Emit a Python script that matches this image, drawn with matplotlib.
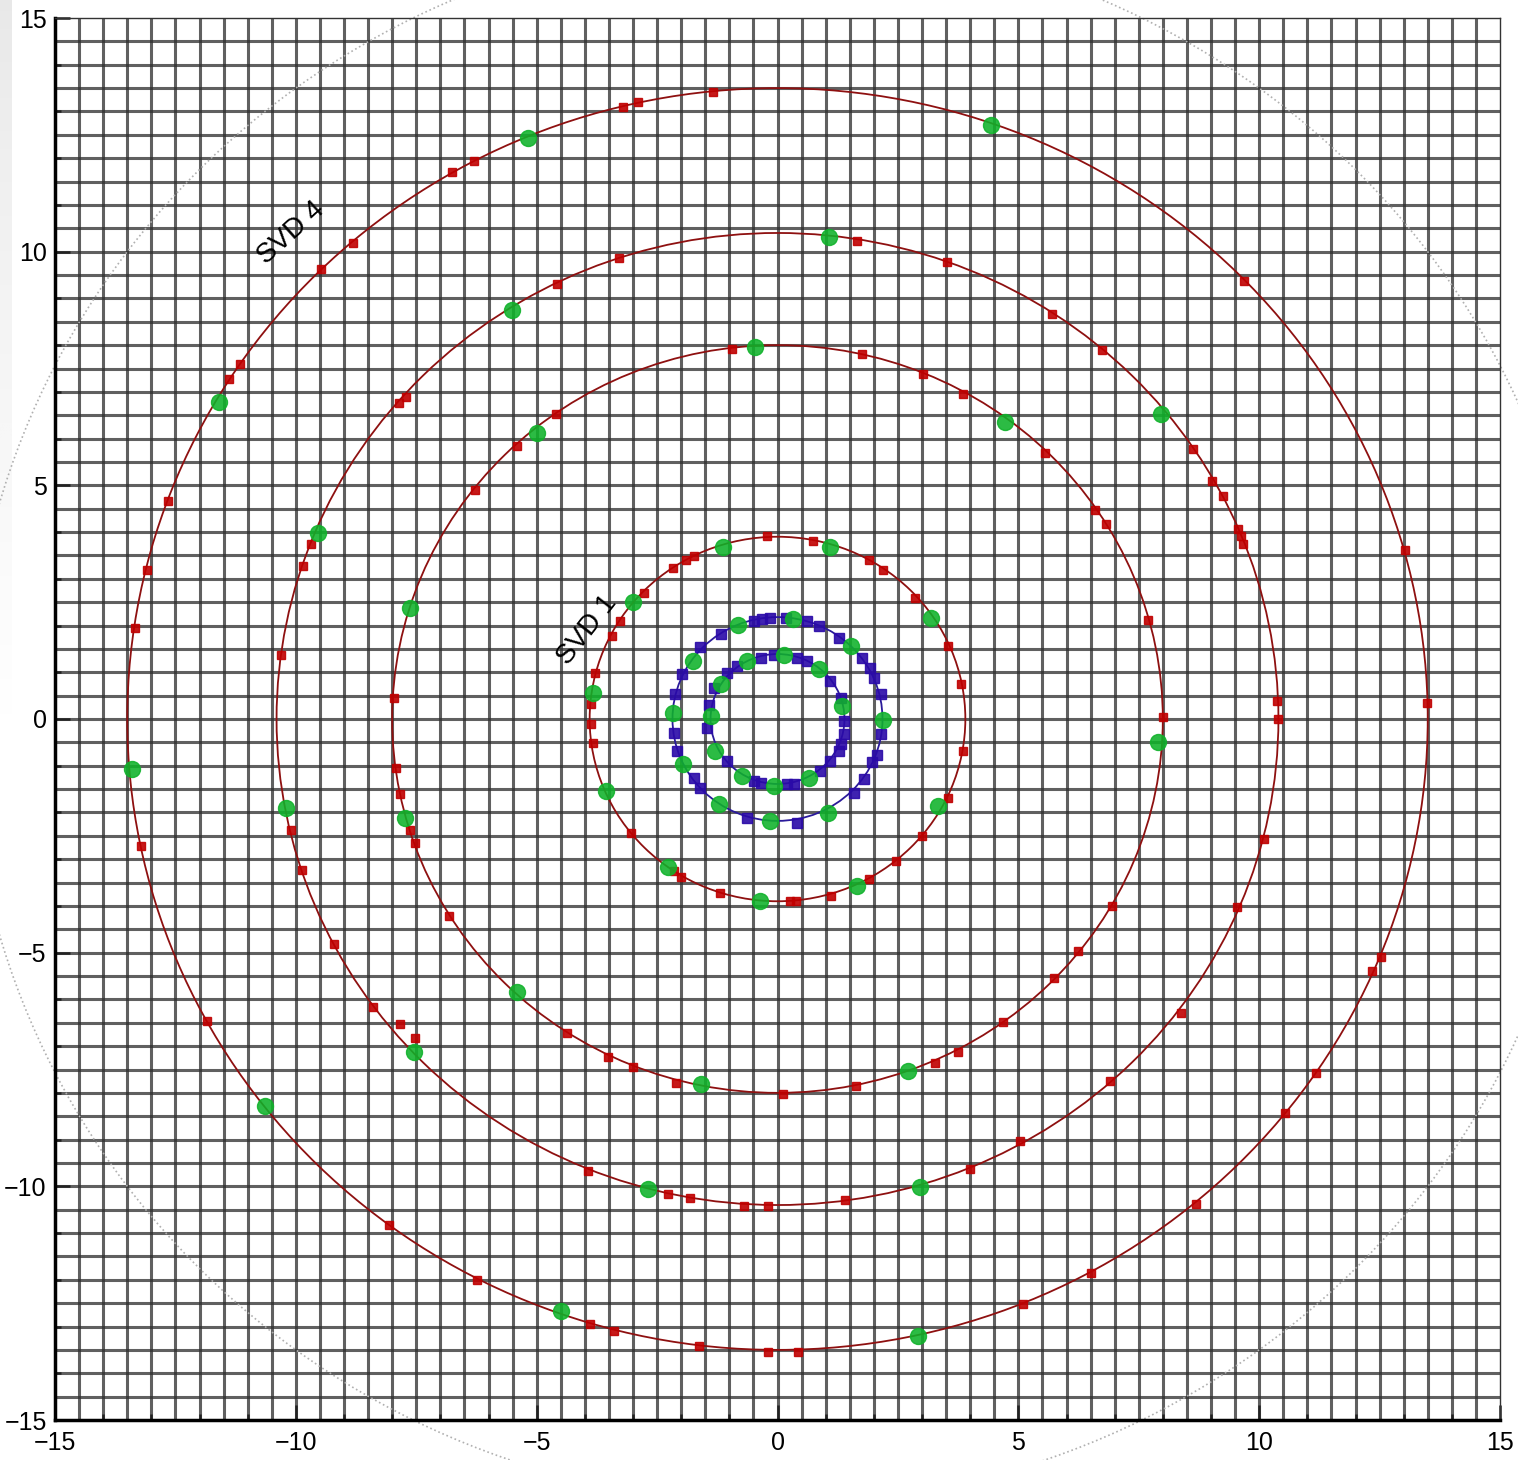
import numpy as np
import matplotlib
matplotlib.use("Agg")
import matplotlib.pyplot as plt
from matplotlib.ticker import MultipleLocator
from matplotlib.patches import Circle

plt.rcParams['font.family'] = ['Liberation Sans', 'DejaVu Sans']

# ---------------- data ----------------
# radii of the six rings (curves)
ring_radius = [13.5, 10.4, 8.0, 3.9, 2.18, 1.39]

# Ring 1 (outer, r ~ 13.5) - red squares
r1_sq_x = [-1.33, -3.2, -2.9, -6.31, -6.75, -8.82, -9.47, -11.15, -11.38, -12.66, -13.08, -13.33,
           -13.22, -11.85, -8.07, -6.23, -3.9, -3.4, -1.64, -0.2, 0.42, 5.09, 6.5, 8.68, 10.53,
           11.18, 12.35, 12.52, 13.49, 13.02, 9.69]
r1_sq_y = [13.42, 13.1, 13.2, 11.94, 11.7, 10.19, 9.63, 7.6, 7.28, 4.67, 3.19, 1.95,
           -2.72, -6.46, -10.82, -12.0, -12.95, -13.1, -13.42, -13.55, -13.55, -12.52, -11.86, -10.38, -8.44,
           -7.57, -5.39, -5.09, 0.34, 3.62, 9.37]
r1_gr_x = [-5.17, 4.44, -11.6, -13.41, -10.63, -4.5, 2.91]
r1_gr_y = [12.43, 12.71, 6.78, -1.07, -8.28, -12.67, -13.2]

# Ring 2 (r ~ 10.4)
r2_sq_x = [1.66, 3.51, 5.69, 6.73, 8.62, 9.03, 9.24, 9.57, 9.63, 9.67, 10.36, 10.4, 10.09, 9.53,
           8.37, 6.91, 5.04, 3.99, 1.41, -0.2, -0.69, -1.81, -2.28, -3.94, -7.52, -7.83, -8.39,
           -9.2, -9.88, -10.11, -10.3, -9.86, -9.69, -7.85, -7.72, -4.57, -3.3]
r2_sq_y = [10.23, 9.78, 8.67, 7.9, 5.78, 5.09, 4.77, 4.07, 3.92, 3.74, 0.39, 0.0, -2.57, -4.02,
           -6.29, -7.75, -9.03, -9.63, -10.29, -10.42, -10.42, -10.25, -10.16, -9.67, -6.83, -6.53, -6.16,
           -4.81, -3.23, -2.38, 1.37, 3.27, 3.74, 6.76, 6.89, 9.31, 9.86]
r2_gr_x = [1.06, 7.97, 2.95, -2.68, -7.54, -10.21, -9.53, -5.52]
r2_gr_y = [10.31, 6.53, -10.01, -10.06, -7.13, -1.9, 3.98, 8.75]

# Ring 3 (r ~ 8.0)
r3_sq_x = [-0.95, 1.76, 3.03, 3.86, 5.56, 6.6, 6.81, 7.7, 8.01, 6.95, 6.23, 5.75, 4.69, 3.74,
           3.26, 1.64, 0.12, -2.1, -3.01, -3.51, -4.36, -6.81, -7.52, -7.64, -7.83, -7.93, -7.97,
           -6.29, -5.4, -4.59]
r3_sq_y = [7.92, 7.81, 7.38, 6.95, 5.69, 4.47, 4.17, 2.12, 0.05, -4.0, -4.96, -5.54, -6.48, -7.13,
           -7.36, -7.85, -8.02, -7.79, -7.45, -7.23, -6.72, -4.22, -2.65, -2.38, -1.6, -1.05, 0.45,
           4.9, 5.84, 6.53]
r3_gr_x = [-0.46, 4.73, 7.89, 2.7, -1.58, -5.4, -7.74, -7.62, -5.0]
r3_gr_y = [7.96, 6.36, -0.49, -7.53, -7.81, -5.84, -2.12, 2.38, 6.12]

# Ring 4 (r ~ 3.9)
r4_sq_x = [-3.88, -3.88, -3.84, -3.78, -3.43, -3.26, -2.78, -2.16, -1.91, -1.74, -0.21, 0.73,
           1.89, 2.2, 2.86, 3.55, 3.82, 3.86, 3.55, 3.01, 2.45, 1.91, 1.12, 0.39, 0.25, -1.2,
           -2.01, -2.14, -3.05]
r4_sq_y = [0.32, -0.11, -0.51, 0.98, 1.78, 2.1, 2.7, 3.23, 3.4, 3.49, 3.92, 3.81,
           3.4, 3.19, 2.59, 1.56, 0.75, -0.68, -1.69, -2.5, -3.04, -3.42, -3.79, -3.89, -3.89, -3.72,
           -3.38, -3.25, -2.44]
r4_gr_x = [-1.14, 1.1, -2.99, -3.84, 3.18, -3.57, 3.34, -2.28, -0.37, 1.66]
r4_gr_y = [3.68, 3.68, 2.5, 0.56, 2.16, -1.54, -1.86, -3.17, -3.89, -3.57]

# Ring 5 (blue, r ~ 2.2)
r5_sq_x = [-0.15, 0.17, 0.62, 0.86, 1.27, 1.76, 1.93, 2.0, 2.14, 2.14, 2.07, 1.97, 1.79, 1.58,
           0.41, -0.63, -1.6, -1.74, -2.08, -2.15, -2.12, -1.98, -1.6, -1.18, -0.49, -0.32]
r5_sq_y = [2.17, 2.17, 2.1, 1.99, 1.74, 1.31, 1.1, 0.88, 0.53, -0.33, -0.76, -0.93, -1.29, -1.58,
           -2.22, -2.11, -1.47, -1.26, -0.68, -0.29, 0.53, 0.96, 1.53, 1.81, 2.1, 2.13]
r5_gr_x = [-0.83, 0.33, 1.52, -1.76, -2.16, 2.18, -1.97, -1.22, -0.15, 1.04]
r5_gr_y = [2.01, 2.14, 1.56, 1.24, 0.13, -0.02, -0.96, -1.82, -2.18, -2.01]

# Ring 6 (blue, r ~ 1.4)
r6_sq_x = [-0.08, 0.41, 0.62, 1.1, 1.31, 1.38, 1.38, 1.31, 1.27, 1.1, 0.89, 0.34, 0.2, -0.35,
           -0.49, -1.04, -1.46, -1.43, -1.32, -1.04, -0.84, -0.35]
r6_sq_y = [1.38, 1.31, 1.24, 0.81, 0.46, -0.04, -0.33, -0.54, -0.68, -0.9, -1.11, -1.4, -1.4, -1.36,
           -1.33, -0.9, -0.19, 0.31, 0.67, 0.99, 1.13, 1.31]
r6_gr_x = [0.13, -0.63, 0.86, -1.18, 1.34, -1.39, -1.29, -0.73, -0.08, 0.65]
r6_gr_y = [1.38, 1.24, 1.06, 0.74, 0.28, 0.06, -0.68, -1.22, -1.43, -1.26]

outer_dotted_radius = 16.8
labels = ["SVD 4", "SVD 1"]
label_x = [-10.1, -3.95]
label_y = [10.4, 1.9]
label_rot = [42, 52]

# ---------------- figure ----------------
fig = plt.figure(figsize=(15.18, 14.6), dpi=100)

# faint gray strip on left edge
gax = fig.add_axes([0, 0.5, 0.0075, 0.5])
grad = np.linspace(1, 0, 256).reshape(-1, 1)
gax.imshow(grad, aspect='auto', cmap='Greys', vmin=0, vmax=6, extent=[0, 1, 0, 1])
gax.axis('off')

ax = fig.add_axes([55/1518, 40/1460, 1445/1518, 1402/1460])
ax.set_xlim(-15, 15)
ax.set_ylim(-15, 15)

# grid every 0.5
ax.xaxis.set_minor_locator(MultipleLocator(1))
ax.yaxis.set_minor_locator(MultipleLocator(1))
ax.xaxis.set_major_locator(MultipleLocator(5))
ax.yaxis.set_major_locator(MultipleLocator(5))
for v in np.arange(-14.5, 15.0, 0.5):
    ax.axvline(v, color='#2e2e2e', lw=2.2, alpha=0.76, zorder=1)
    ax.axhline(v, color='#2e2e2e', lw=2.2, alpha=0.76, zorder=1)

red_line = '#8e1010'
red_mk = '#c00000'
blue_line = '#2a1a9a'
blue_mk = '#2a0aa8'
green = '#0fb22a'

rings = [
    (r1_sq_x, r1_sq_y, r1_gr_x, r1_gr_y, red_line, red_mk, 6.3),
    (r2_sq_x, r2_sq_y, r2_gr_x, r2_gr_y, red_line, red_mk, 6.3),
    (r3_sq_x, r3_sq_y, r3_gr_x, r3_gr_y, red_line, red_mk, 6.3),
    (r4_sq_x, r4_sq_y, r4_gr_x, r4_gr_y, red_line, red_mk, 6.3),
    (r5_sq_x, r5_sq_y, r5_gr_x, r5_gr_y, blue_line, blue_mk, 7.5),
    (r6_sq_x, r6_sq_y, r6_gr_x, r6_gr_y, blue_line, blue_mk, 7.5),
]

for (sx, sy, gx, gy, lc, mc, ms), rad in zip(rings, ring_radius):
    ax.add_patch(Circle((0, 0), rad, fill=False, edgecolor=lc, lw=1.3, zorder=3))
    ax.plot(sx, sy, ls='none', marker='s', ms=ms, color=mc, mec=mc, alpha=0.9, zorder=4)
    ax.plot(gx, gy, ls='none', marker='o', ms=11.5, color=green, mec=green, alpha=0.88, zorder=5)

# dotted outer circle (unclipped)
ax.add_patch(Circle((0, 0), outer_dotted_radius, fill=False, ls=':', edgecolor='#b0b0b0',
                    lw=1.2, clip_on=False, zorder=2))

for s, x, y, r in zip(labels, label_x, label_y, label_rot):
    ax.text(x, y, s, rotation=r, ha='center', va='center', fontsize=20, color='black', zorder=6)

# spines and ticks
for side in ['top', 'right']:
    ax.spines[side].set_linewidth(1.0)
    ax.spines[side].set_color('#333333')
for side in ['bottom', 'left']:
    ax.spines[side].set_linewidth(2.5)
    ax.spines[side].set_color('black')
ax.tick_params(which='major', direction='in', length=11, width=1.8, labelsize=18, pad=8,
               top=False, right=False, colors='#222222', labelcolor='black')
ax.tick_params(which='minor', direction='in', length=4, width=1.8, top=False, right=False,
               colors='#222222')
ax.tick_params(axis='y', which='major', pad=6)

fig.savefig('out.png', dpi=100)
